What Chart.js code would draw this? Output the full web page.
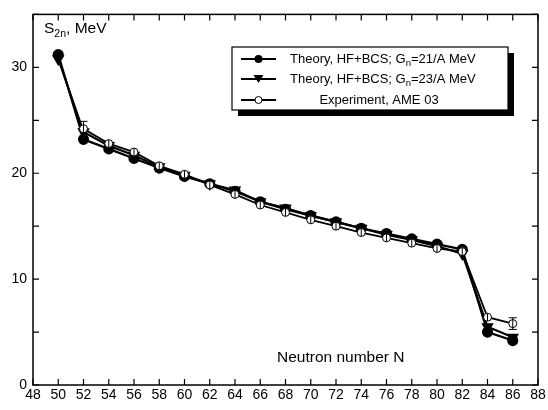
<!DOCTYPE html>
<html>
<head>
<meta charset="utf-8">
<script src="https://cdn.jsdelivr.net/npm/chart.js@4.4.1/dist/chart.umd.min.js"></script>
<style>
html,body{margin:0;padding:0;background:#fff;}
#wrap{width:548px;height:410px;position:relative;}
</style>
</head>
<body>
<div id="wrap"><canvas id="c" width="548" height="410"></canvas></div>
<script>
// Neutron number
const neutronN = [50,52,54,56,58,60,62,64,66,68,70,72,74,76,78,80,82,84,86];
// Theory HF+BCS, Gn = 21/A MeV
const s2nG21 = [31.2,23.2,22.3,21.4,20.5,19.7,19.0,18.3,17.3,16.6,16.0,15.4,14.8,14.3,13.8,13.3,12.8,5.0,4.2];
// Theory HF+BCS, Gn = 23/A MeV
const s2nG23 = [30.8,23.9,22.6,21.7,20.6,19.8,19.0,18.4,17.3,16.7,16.0,15.4,14.8,14.2,13.7,13.1,12.4,5.5,4.5];
// Experiment AME 03
const s2nExp = [null,24.2,22.8,22.0,20.7,19.9,18.9,18.0,17.0,16.3,15.6,15.0,14.4,13.9,13.4,12.9,12.6,6.4,5.8];
const s2nExpErr = [null,0.7,0.35,0.35,0.35,0.35,0.35,0.35,0.35,0.35,0.35,0.35,0.35,0.35,0.35,0.35,0.35,0.35,0.55];
// Axis ticks
const xTickValues = [48,50,52,54,56,58,60,62,64,66,68,70,72,74,76,78,80,82,84,86,88];
const yTickLabels = [0,10,20,30];
const legendLabels = [
  ["Theory, HF+BCS; G","n","=21/A MeV"],
  ["Theory, HF+BCS; G","n","=23/A MeV"],
  ["Experiment, AME 03","",""]
];

const FONT = '"Liberation Sans", Arial, Helvetica, sans-serif';
const pts = arr => neutronN.map((n,i)=>({x:n,y:arr[i]}));

const framePlugin = {
  id:'frame',
  afterDraw(chart){
    const ctx = chart.ctx, a = chart.chartArea;
    const xs = chart.scales.x, ys = chart.scales.y;
    ctx.save();
    ctx.strokeStyle = '#000';
    ctx.lineWidth = 1.5;
    ctx.strokeRect(a.left, a.top, a.right-a.left, a.bottom-a.top);
    ctx.lineWidth = 1.2;
    ctx.beginPath();
    xTickValues.forEach(v=>{
      const px = xs.getPixelForValue(v);
      ctx.moveTo(px, a.bottom); ctx.lineTo(px, a.bottom-6);
      ctx.moveTo(px, a.top); ctx.lineTo(px, a.top+6);
    });
    for(let v=0; v<=35; v+=5){
      const py = ys.getPixelForValue(v);
      ctx.moveTo(a.left, py); ctx.lineTo(a.left+6, py);
      ctx.moveTo(a.right, py); ctx.lineTo(a.right-6, py);
    }
    ctx.stroke();

    // axis titles
    ctx.fillStyle = '#000';
    ctx.textBaseline = 'alphabetic';
    ctx.textAlign = 'left';
    ctx.font = '15.5px ' + FONT;
    let x0 = 44, yb = 33;
    ctx.fillText('S', x0, yb);
    let w = ctx.measureText('S').width;
    ctx.font = '10.5px ' + FONT;
    ctx.fillText('2n', x0+w, yb+4);
    let w2 = ctx.measureText('2n').width;
    ctx.font = '15.5px ' + FONT;
    ctx.fillText(', MeV', x0+w+w2, yb);

    ctx.font = '15.5px ' + FONT;
    ctx.fillText('Neutron number N', 277, 362);

    // legend
    const bx = 232, by = 47, bw = 276, bh = 63;
    ctx.fillStyle = '#000';
    ctx.fillRect(bx+6, by+6, bw, bh);
    ctx.fillStyle = '#fff';
    ctx.fillRect(bx, by, bw, bh);
    ctx.strokeStyle = '#000';
    ctx.lineWidth = 1.2;
    ctx.strokeRect(bx, by, bw, bh);
    const rows = [59, 79, 100];
    rows.forEach((ry,i)=>{
      ctx.strokeStyle='#000';
      ctx.lineWidth = 2;
      ctx.beginPath(); ctx.moveTo(241, ry); ctx.lineTo(276, ry); ctx.stroke();
      ctx.fillStyle='#000';
      if(i===0){
        ctx.beginPath(); ctx.arc(258.5, ry, 4, 0, Math.PI*2); ctx.fill();
      } else if(i===1){
        ctx.beginPath(); ctx.moveTo(253.5, ry-4); ctx.lineTo(263.5, ry-4); ctx.lineTo(258.5, ry+4); ctx.closePath(); ctx.fill();
      } else {
        ctx.fillStyle='#fff';
        ctx.beginPath(); ctx.arc(258.5, ry, 3.5, 0, Math.PI*2); ctx.fill();
        ctx.lineWidth=1; ctx.stroke();
      }
      const lab = legendLabels[i];
      ctx.fillStyle='#000';
      ctx.font = '13px ' + FONT;
      if(lab[1]){
        let tx = 290;
        ctx.fillText(lab[0], tx, ry+4);
        tx += ctx.measureText(lab[0]).width;
        ctx.font = '9.5px ' + FONT;
        ctx.fillText(lab[1], tx, ry+7);
        tx += ctx.measureText(lab[1]).width;
        ctx.font = '13px ' + FONT;
        ctx.fillText(lab[2], tx, ry+4);
      } else {
        ctx.textAlign='center';
        ctx.fillText(lab[0], 379, ry+4);
        ctx.textAlign='left';
      }
    });
    ctx.restore();
  },
  afterDatasetsDraw(chart){
    const ctx = chart.ctx;
    const xs = chart.scales.x, ys = chart.scales.y;
    ctx.save();
    ctx.strokeStyle='#000';
    ctx.lineWidth=1;
    neutronN.forEach((n,i)=>{
      if(s2nExp[i]==null) return;
      const px = xs.getPixelForValue(n);
      const pt = ys.getPixelForValue(s2nExp[i]+s2nExpErr[i]);
      const pb = ys.getPixelForValue(s2nExp[i]-s2nExpErr[i]);
      ctx.beginPath();
      ctx.moveTo(px, pt); ctx.lineTo(px, pb);
      if(pb-pt > 10){
        ctx.moveTo(px-4, pt); ctx.lineTo(px+4, pt);
        ctx.moveTo(px-4, pb); ctx.lineTo(px+4, pb);
      }
      ctx.stroke();
    });
    ctx.restore();
  }
};

new Chart(document.getElementById('c'), {
  type:'line',
  data:{
    datasets:[
      {label:'Experiment, AME 03', data:pts(s2nExp), order:0,
       borderColor:'#000', borderWidth:1.8, pointStyle:'circle', pointRadius:4,
       pointBackgroundColor:'#fff', pointBorderColor:'#000', pointBorderWidth:1, spanGaps:false},
      {label:'Theory G21', data:pts(s2nG21), order:2,
       borderColor:'#000', borderWidth:2.2, pointStyle:'circle', pointRadius:4.5,
       pointBackgroundColor:'#000', pointBorderColor:'#000'},
      {label:'Theory G23', data:pts(s2nG23), order:1,
       borderColor:'#000', borderWidth:2.2, pointStyle:'triangle', pointRotation:180, pointRadius:5,
       pointBackgroundColor:'#000', pointBorderColor:'#000'}
    ]
  },
  options:{
    responsive:false, animation:false,
    layout:{padding:{top:9, right:10, left:0, bottom:0}},
    plugins:{legend:{display:false}, tooltip:{enabled:false}},
    scales:{
      x:{type:'linear', min:48, max:88,
         afterBuildTicks: s=>{ s.ticks = xTickValues.map(v=>({value:v})); },
         ticks:{color:'#000', font:{family:FONT, size:14}, padding:2, maxRotation:0, autoSkip:false},
         grid:{display:false, drawTicks:false},
         border:{display:false},
         afterFit: s=>{ s.height = 25; }
      },
      y:{min:0, max:35,
         afterBuildTicks: s=>{ s.ticks = yTickLabels.map(v=>({value:v})); },
         ticks:{color:'#000', font:{family:FONT, size:14}, padding:6},
         grid:{display:false, drawTicks:false},
         border:{display:false},
         afterFit: s=>{ s.width = 33; }
      }
    }
  },
  plugins:[framePlugin]
});
</script>
</body>
</html>
